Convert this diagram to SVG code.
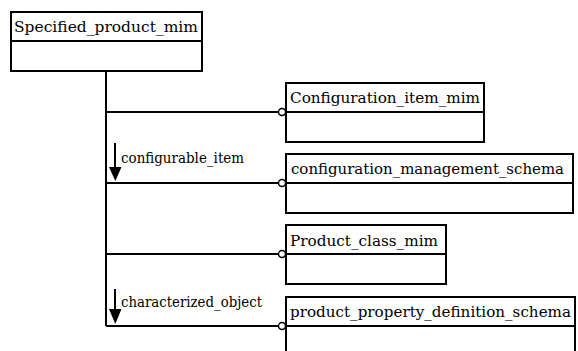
<svg xmlns="http://www.w3.org/2000/svg" width="578" height="351" viewBox="0 0 578 351">
<style>
.box{fill:#fff;stroke:#000;stroke-width:2}
.div{stroke:#000;stroke-width:2}
.c{fill:none;stroke:#000;stroke-width:2}
.o{fill:#fff;stroke:#000;stroke-width:1.5}
.t{font-family:'DejaVu Serif','Liberation Serif',serif;font-size:15px}
.l{font-family:'DejaVu Serif','Liberation Serif',serif;font-size:14px}
</style>
<rect width="578" height="351" fill="#fff"/>
<g id="connectors">
<path class="c" d="M106,71 V326"/>
<path class="c" d="M106,112 H278"/>
<path class="c" d="M106,183 H278"/>
<path class="c" d="M106,254 H278"/>
<path class="c" d="M106,326 H278"/>
<circle class="o" cx="282" cy="112" r="3.5"/>
<circle class="o" cx="282" cy="183" r="3.5"/>
<circle class="o" cx="282" cy="254" r="3.5"/>
<circle class="o" cx="282" cy="326" r="3.5"/>
<path d="M115,143 V169" stroke="#000" stroke-width="2"/>
<path d="M109,167 H121.5 L115.3,181 Z" fill="#000"/>
<text class="l" x="121" y="163" textLength="123" lengthAdjust="spacingAndGlyphs">configurable_item</text>
<path d="M115,289 V311" stroke="#000" stroke-width="2"/>
<path d="M109,309 H121.5 L115.3,324 Z" fill="#000"/>
<text class="l" x="121" y="307" textLength="141" lengthAdjust="spacingAndGlyphs">characterized_object</text>
</g>
<g id="Specified_product_mim">
<rect class="box" x="11" y="12" width="191" height="59"/>
<line class="div" x1="11" y1="41" x2="202" y2="41"/>
<text class="t" x="14" y="32" textLength="184" lengthAdjust="spacingAndGlyphs">Specified_product_mim</text>
</g>
<g id="Configuration_item_mim">
<rect class="box" x="286" y="83" width="198" height="59"/>
<line class="div" x1="286" y1="112" x2="484" y2="112"/>
<text class="t" x="290" y="103" textLength="190" lengthAdjust="spacingAndGlyphs">Configuration_item_mim</text>
</g>
<g id="configuration_management_schema">
<rect class="box" x="286" y="154" width="287" height="59"/>
<line class="div" x1="286" y1="183" x2="573" y2="183"/>
<text class="t" x="291" y="174" textLength="273" lengthAdjust="spacingAndGlyphs">configuration_management_schema</text>
</g>
<g id="Product_class_mim">
<rect class="box" x="286" y="225" width="160" height="59"/>
<line class="div" x1="286" y1="254" x2="446" y2="254"/>
<text class="t" x="290" y="246" textLength="148" lengthAdjust="spacingAndGlyphs">Product_class_mim</text>
</g>
<g id="product_property_definition_schema">
<rect class="box" x="286" y="297" width="289" height="70"/>
<line class="div" x1="286" y1="326" x2="575" y2="326"/>
<text class="t" x="290" y="317" textLength="281" lengthAdjust="spacingAndGlyphs">product_property_definition_schema</text>
</g>
</svg>
